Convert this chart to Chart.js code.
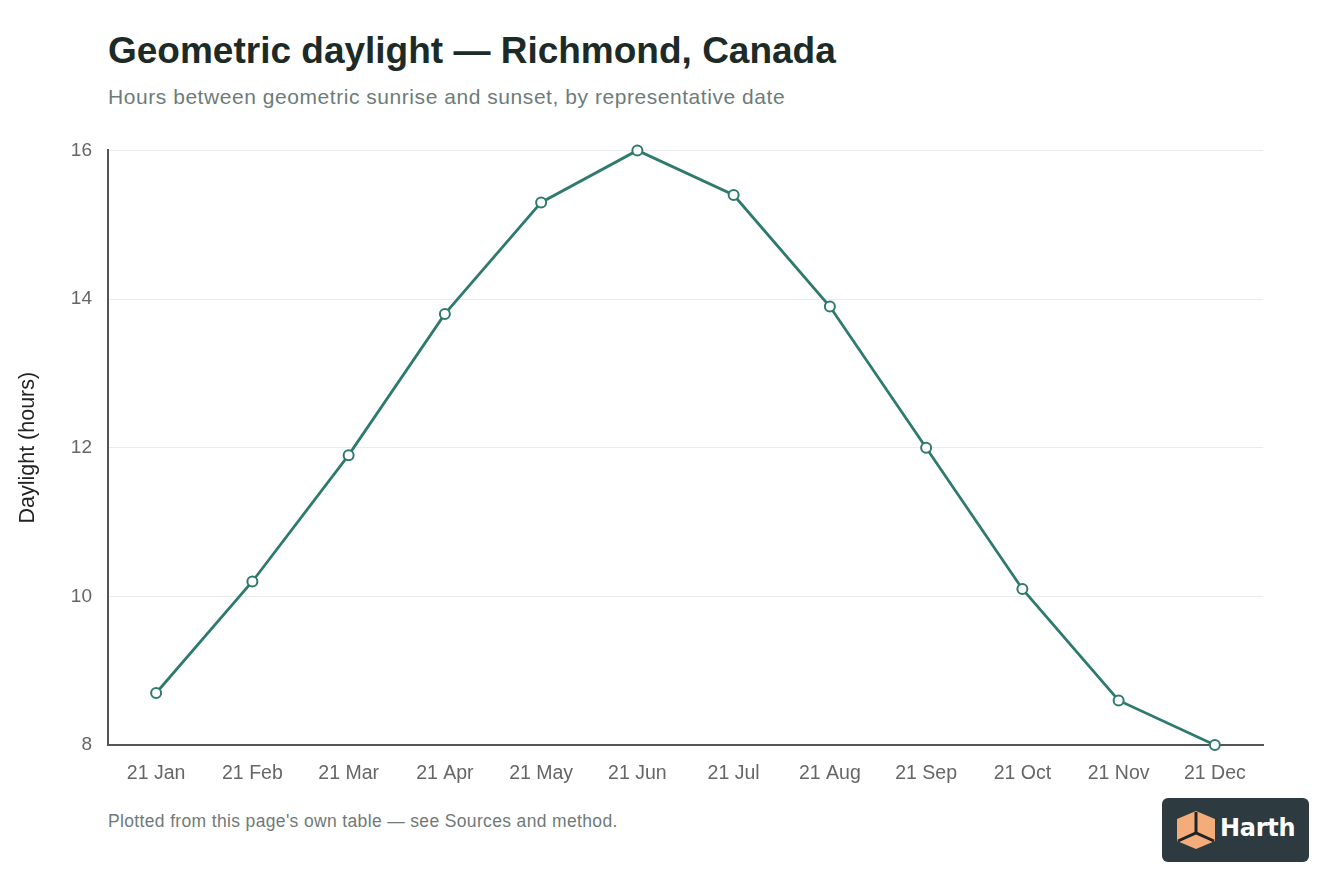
<!DOCTYPE html>
<html>
<head>
<meta charset="utf-8">
<script src="https://cdn.jsdelivr.net/npm/chart.js@4.4.1/dist/chart.umd.min.js"></script>
<style>
  html, body { margin: 0; padding: 0; background: #fff; }
  body { width: 1344px; height: 896px; position: relative; overflow: hidden; font-family: "Liberation Sans", Arial, sans-serif; }
  #title { position: absolute; left: 108px; top: 30px; font-size: 37px; font-weight: bold; color: #1d2b28; letter-spacing: 0px; }
  #subtitle { position: absolute; left: 108px; top: 85px; font-size: 21px; color: #6d7c79; letter-spacing: 0.55px; }
  #wrap { position: absolute; left: 0; top: 123px; width: 1270px; height: 677px; }
  #footer { position: absolute; left: 108px; top: 811px; font-size: 17.5px; color: #6f7a78; letter-spacing: 0.35px; }
  #logo { position: absolute; left: 1162px; top: 798px; width: 147px; height: 64px; background: #2d3a40; border-radius: 6px; }
  #logo svg { position: absolute; left: 13px; top: 12px; }
  #logo span { position: absolute; left: 58px; top: 16px; font-size: 24px; font-weight: bold; color: #fff; font-family: "DejaVu Sans", sans-serif; letter-spacing: -0.3px; }
</style>
</head>
<body>
<div id="title">Geometric daylight — Richmond, Canada</div>
<div id="subtitle">Hours between geometric sunrise and sunset, by representative date</div>
<div id="wrap"><canvas id="chart"></canvas></div>
<div id="footer">Plotted from this page's own table — see Sources and method.</div>
<div id="logo">
  <svg width="42" height="40" viewBox="0 0 42 40">
    <polygon points="21,1 40,9 40,31 21,39 2,31 2,9" fill="#f4ad7a"/>
    <polyline points="21,2 21,23" fill="none" stroke="#1e2326" stroke-width="3"/>
    <polyline points="3,31 21,23 39,31" fill="none" stroke="#1e2326" stroke-width="3"/>
  </svg>
  <span>Harth</span>
</div>
<script>
const dates = ['21 Jan', '21 Feb', '21 Mar', '21 Apr', '21 May', '21 Jun', '21 Jul', '21 Aug', '21 Sep', '21 Oct', '21 Nov', '21 Dec'];
const daylightHours = [8.7, 10.2, 11.9, 13.8, 15.3, 16.0, 15.4, 13.9, 12.0, 10.1, 8.6, 8.0];
const yTicks = [8, 10, 12, 14, 16];

const ctx = document.getElementById('chart').getContext('2d');
new Chart(ctx, {
    type: 'line',
    data: {
        labels: dates,
        datasets: [{
            label: 'Daylight (hours)',
            data: daylightHours,
            borderColor: '#2e7a6e',
            borderWidth: 2.8,
            tension: 0,
            clip: false,
            pointRadius: 5,
            pointBorderWidth: 2,
            pointBackgroundColor: '#ffffff',
            pointBorderColor: '#2e7a6e'
        }]
    },
    options: {
        responsive: true,
        maintainAspectRatio: false,
        animation: false,
        layout: { padding: { top: 14, right: 6, bottom: 0, left: 0 } },
        plugins: {
            legend: { display: false },
            tooltip: { enabled: false }
        },
        scales: {
            x: {
                offset: true,
                grid: { display: false, drawTicks: false },
                border: { display: true, color: '#555555', width: 2 },
                ticks: { color: '#666666', padding: 17, font: { family: 'Liberation Sans', size: 19.5 }, maxRotation: 0 },
                afterFit: (scale) => { scale.height = 55; }
            },
            y: {
                min: 8,
                max: 16,
                afterBuildTicks: (scale) => { scale.ticks = yTicks.map(v => ({ value: v })); },
                grid: { color: '#e9ecec', lineWidth: 1, drawTicks: false },
                border: { display: true, color: '#555555', width: 2 },
                ticks: { color: '#666666', padding: 16, font: { family: 'Liberation Sans', size: 19 } },
                title: { display: true, text: 'Daylight (hours)', color: '#222222', padding: { top: 15, bottom: 0 }, font: { family: 'Liberation Sans', size: 21.5 } },
                afterFit: (scale) => { scale.width = 108; }
            }
        }
    }
});
</script>
</body>
</html>
